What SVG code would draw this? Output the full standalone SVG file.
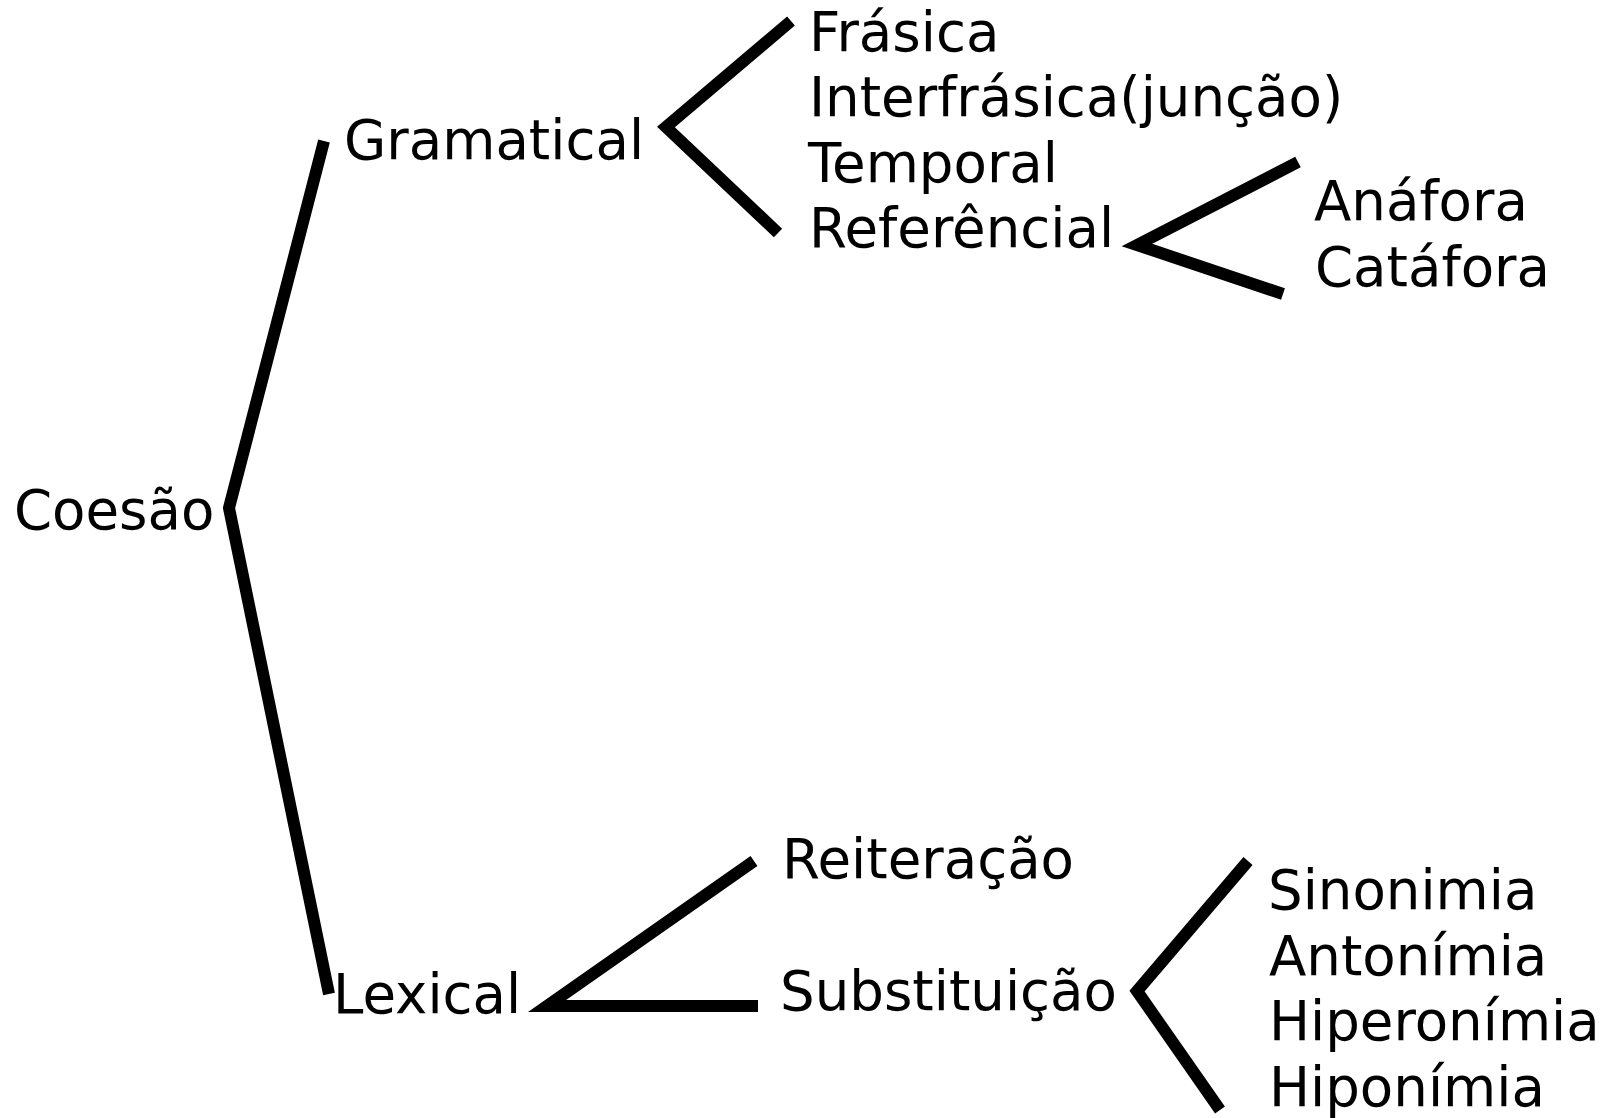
<svg xmlns="http://www.w3.org/2000/svg" width="1611" height="1118" viewBox="0 0 1611 1118">
<style>
text { font-family: "DejaVu Sans", sans-serif; font-size: 54.6px; fill: #000; }
.c { fill: none; stroke: #000; stroke-width: 12; stroke-linejoin: miter; stroke-linecap: butt; }
</style>
<rect width="1611" height="1118" fill="#fff"/>
<g id="connectors">
  <polyline class="c" points="324,141 229,508 329,994"/>
  <polyline class="c" points="791,21 666,127 778,233"/>
  <polyline class="c" points="1298,162 1137,245 1283,294"/>
  <polyline class="c" points="754,861 547,1006 758,1006"/>
  <polyline class="c" points="1248,861 1137,991 1220,1110"/>
</g>
<g id="coesao"><text x="14" y="529">Coesão</text></g>
<g id="gramatical"><text x="344" y="159">Gramatical</text></g>
<g id="frasica"><text x="809" y="51">Frásica</text></g>
<g id="interfrasica"><text x="809" y="116">Interfrásica(junção)</text></g>
<g id="temporal"><text x="808" y="182">Temporal</text></g>
<g id="referencial"><text x="809" y="247">Referêncial</text></g>
<g id="anafora"><text x="1314" y="220">Anáfora</text></g>
<g id="catafora"><text x="1315" y="286">Catáfora</text></g>
<g id="lexical"><text x="333" y="1013">Lexical</text></g>
<g id="reiteracao"><text x="782" y="878">Reiteração</text></g>
<g id="substituicao"><text x="780" y="1010">Substituição</text></g>
<g id="sinonimia"><text x="1268" y="909">Sinonimia</text></g>
<g id="antonimia"><text x="1269" y="975">Antonímia</text></g>
<g id="hiperonimia"><text x="1269" y="1040">Hiperonímia</text></g>
<g id="hiponimia"><text x="1269" y="1106">Hiponímia</text></g>
</svg>
